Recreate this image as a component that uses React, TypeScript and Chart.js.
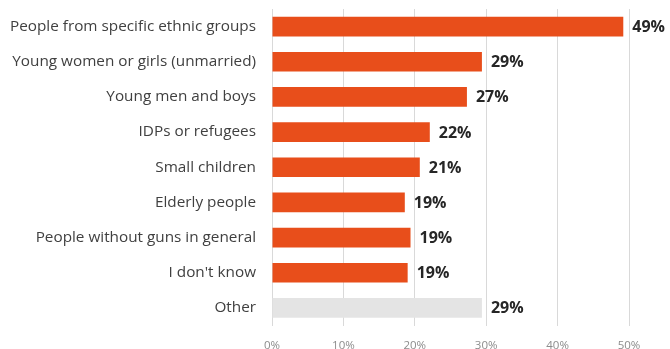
import React, { useEffect, useRef } from "react";
import { Chart, registerables } from "chart.js";

Chart.register(...registerables);

const categories = [
  "People from specific ethnic groups",
  "Young women or girls (unmarried)",
  "Young men and boys",
  "IDPs or refugees",
  "Small children",
  "Elderly people",
  "People without guns in general",
  "I don't know",
  "Other",
];
const values = [49.2, 29.4, 27.3, 22.1, 20.7, 18.6, 19.4, 19.0, 29.4];
const valueLabels = ["49%", "29%", "27%", "22%", "21%", "19%", "19%", "19%", "29%"];
const xTicks = [0, 10, 20, 30, 40, 50];

const ORANGE = "#E84E1B";
const GREY = "#E4E4E4";

const dataLabelPlugin = {
  id: "dataLabels",
  afterDatasetsDraw(chart: any) {
    const ctx = chart.ctx;
    const meta = chart.getDatasetMeta(0);
    ctx.save();
    ctx.font = "bold 16px 'Open Sans', sans-serif";
    ctx.fillStyle = "#262626";
    ctx.textAlign = "left";
    ctx.textBaseline = "middle";
    meta.data.forEach((bar: any, i: number) => {
      ctx.fillText(valueLabels[i], bar.x + 9, bar.y + 1);
    });
    ctx.restore();
  },
};

export default function App() {
  const ref = useRef<HTMLCanvasElement | null>(null);
  useEffect(() => {
    if (!ref.current) return;
    const chart = new Chart(ref.current, {
      type: "bar",
      data: {
        labels: categories,
        datasets: [
          {
            data: values,
            backgroundColor: categories.map((_, i) => (i === categories.length - 1 ? GREY : ORANGE)),
            barPercentage: 0.9,
            categoryPercentage: 0.62,
          },
        ],
      },
      options: {
        indexAxis: "y",
        animation: false,
        responsive: false,
        layout: { padding: { top: 9, right: 41, bottom: 0, left: 0 } },
        plugins: { legend: { display: false }, tooltip: { enabled: false } },
        scales: {
          x: {
            min: 0,
            max: 50,
            afterBuildTicks: (scale: any) => {
              scale.ticks = xTicks.map((v) => ({ value: v }));
            },
            afterFit: (scale: any) => {
              scale.height = 23.5;
            },
            grid: { color: "#D9D9D9", drawTicks: false, lineWidth: 1 },
            border: { display: false },
            ticks: {
              padding: 13,
              color: "#8C8C8C",
              font: { size: 11.5, family: "'Open Sans', sans-serif" },
              callback: (v: any) => v + "%",
            },
          },
          y: {
            afterFit: (scale: any) => {
              scale.width = 272;
              scale.paddingTop = 0;
              scale.paddingBottom = 0;
            },
            grid: { display: false, drawTicks: false },
            border: { display: true, color: "#D9D9D9" },
            ticks: {
              padding: 16,
              color: "#404040",
              font: { size: 15.3, family: "'Open Sans', sans-serif" },
            },
          },
        },
      },
      plugins: [dataLabelPlugin],
    });
    return () => chart.destroy();
  }, []);
  return (
    <canvas
      ref={ref}
      width={670}
      height={349}
      style={{ position: "fixed", left: 0, top: 0, display: "block", background: "#fff" }}
    />
  );
}
